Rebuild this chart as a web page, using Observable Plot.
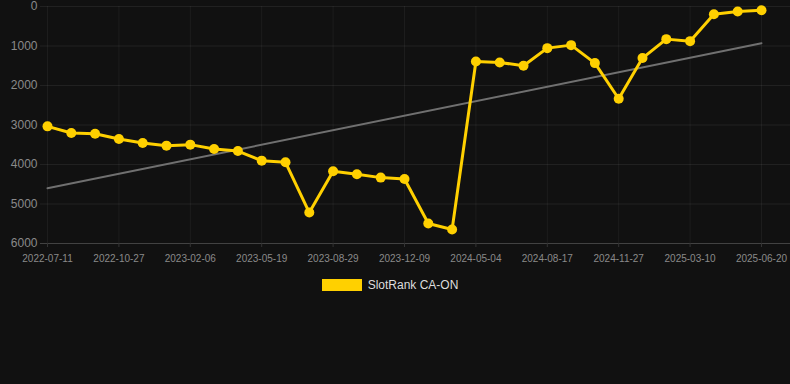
<!DOCTYPE html>
<html>
<head>
<meta charset="utf-8">
<script src="https://cdn.jsdelivr.net/npm/d3@7"></script>
<script src="https://cdn.jsdelivr.net/npm/@observablehq/plot@0.6"></script>
<style>
  html, body { margin: 0; padding: 0; background: #111111; }
  body { width: 790px; height: 384px; overflow: hidden; font-family: "Liberation Sans", Arial, Helvetica, sans-serif; }
  #chart svg { display: block; }
  .legend { display: flex; align-items: center; justify-content: center; gap: 6px; margin-top: 10px; padding-right: 10px; color: #dddddd; font-size: 12px; }
  .legend .sw { width: 40px; height: 12px; background: #ffd000; box-sizing: border-box; }
</style>
</head>
<body>
<div id="chart"></div>
<script>
const dates = [
  "2022-07-11","2022-08-16","2022-09-21","2022-10-27","2022-11-30","2023-01-03","2023-02-06",
  "2023-03-12","2023-04-15","2023-05-19","2023-06-22","2023-07-26","2023-08-29","2023-10-02",
  "2023-11-05","2023-12-09","2024-01-27","2024-03-16","2024-05-04","2024-06-08","2024-07-13",
  "2024-08-17","2024-09-20","2024-10-24","2024-11-27","2024-12-31","2025-02-03","2025-03-10",
  "2025-04-13","2025-05-17","2025-06-20"
];
const ranks = [
  3034, 3203, 3220, 3355, 3456, 3523, 3497, 3608, 3659, 3902, 3944, 5217, 4172, 4248, 4332,
  4366, 5495, 5646, 1391, 1416, 1500, 1054, 978, 1433, 2335, 1306, 826, 877, 194, 126, 93
];
const trendDates = ["2022-07-11", "2025-06-20"];
const trendValues = [4602, 928];
const yTicks = [0, 1000, 2000, 3000, 4000, 5000, 6000];
const xTickLabels = dates.filter((d, i) => i % 3 === 0);
const seriesName = "SlotRank CA-ON";

const data = dates.map((d, i) => ({date: d, rank: ranks[i]}));
const trend = trendDates.map((d, i) => ({date: d, rank: trendValues[i]}));

const chart = Plot.plot({
  width: 790,
  height: 268,
  marginLeft: 40,
  marginRight: 0,
  marginTop: 6,
  marginBottom: 25,
  style: {background: "#111111", color: "#888888", fontFamily: "'Liberation Sans', Arial, Helvetica, sans-serif"},
  x: {type: "point", domain: dates, range: [47, 761], padding: 0, round: false},
  y: {domain: [0, 6000], range: [6, 243]},
  marks: [
    Plot.gridY(yTicks, {stroke: "#ffffff", strokeOpacity: 0.07}),
    Plot.gridX(xTickLabels, {stroke: "#ffffff", strokeOpacity: 0.05, y1: 0, y2: 6000}),
    Plot.ruleY([6000], {stroke: "#ffffff", strokeOpacity: 0.15}),
    Plot.axisY(yTicks, {tickSize: 0, tickPadding: 3, fontSize: 12, fill: "#8a8a8a", label: null, tickFormat: d => String(d)}),
    Plot.axisX(xTickLabels, {tickSize: 4, stroke: "#333", tickPadding: 7, fontSize: 10, fill: "#8a8a8a", label: null}),
    Plot.line(trend, {x: "date", y: "rank", stroke: "#707070", strokeWidth: 2}),
    Plot.line(data, {x: "date", y: "rank", stroke: "#ffd000", strokeWidth: 3, curve: "linear"}),
    Plot.dot(data, {x: "date", y: "rank", r: 5, fill: "#ffd000", stroke: "none"})
  ]
});
document.getElementById("chart").appendChild(chart);

const legend = document.createElement("div");
legend.className = "legend";
legend.innerHTML = `<span class="sw"></span><span></span>`;
legend.lastChild.textContent = seriesName;
document.body.appendChild(legend);
</script>
</body>
</html>
